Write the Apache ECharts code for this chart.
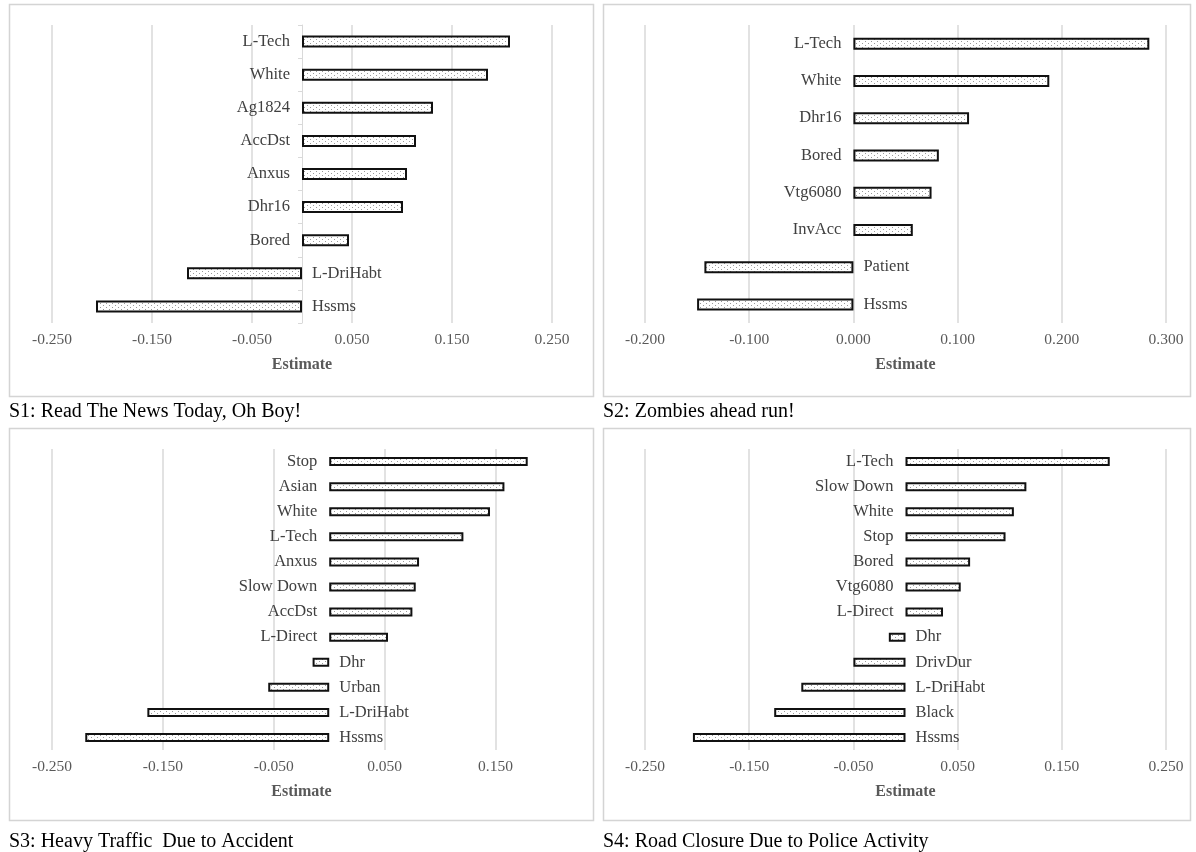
<!DOCTYPE html>
<html>
<head>
<meta charset="utf-8">
<script src="https://cdn.jsdelivr.net/npm/echarts@6/dist/echarts.min.js"></script>
<style>
  html, body { margin: 0; padding: 0; background: #fff; }
  #chart { width: 1196px; height: 852px; }
</style>
</head>
<body>
<div id="chart"></div>
<script>
// Scenario S1
const s1Vars = ['L-Tech', 'White', 'Ag1824', 'AccDst', 'Anxus', 'Dhr16', 'Bored', 'L-DriHabt', 'Hssms'];
const s1Est = [0.208, 0.186, 0.131, 0.114, 0.105, 0.101, 0.047, -0.115, -0.206];
// Scenario S2
const s2Vars = ['L-Tech', 'White', 'Dhr16', 'Bored', 'Vtg6080', 'InvAcc', 'Patient', 'Hssms'];
const s2Est = [0.284, 0.188, 0.111, 0.082, 0.075, 0.057, -0.143, -0.150];
// Scenario S3
const s3Vars = ['Stop', 'Asian', 'White', 'L-Tech', 'Anxus', 'Slow Down', 'AccDst', 'L-Direct', 'Dhr', 'Urban', 'L-DriHabt', 'Hssms'];
const s3Est = [0.179, 0.158, 0.145, 0.121, 0.081, 0.078, 0.075, 0.053, -0.015, -0.055, -0.164, -0.220];
// Scenario S4
const s4Vars = ['L-Tech', 'Slow Down', 'White', 'Stop', 'Bored', 'Vtg6080', 'L-Direct', 'Dhr', 'DrivDur', 'L-DriHabt', 'Black', 'Hssms'];
const s4Est = [0.196, 0.116, 0.104, 0.096, 0.062, 0.053, 0.036, -0.016, -0.050, -0.100, -0.126, -0.204];

const titles = [
  'S1: Read The News Today, Oh Boy!',
  'S2: Zombies ahead run!',
  'S3: Heavy Traffic  Due to Accident',
  'S4: Road Closure Due to Police Activity'
];

// Axis ranges per panel
const axisMin = [-0.25, -0.2, -0.25, -0.25];
const axisMax = [0.25, 0.3, 0.2, 0.25];
const axisStep = 0.1;

const SERIF = '"Liberation Serif", "Times New Roman", serif';

// dotted fill for the bars
function makeDots() {
  const c = document.createElement('canvas');
  c.width = 6; c.height = 4;
  const g = c.getContext('2d');
  g.fillStyle = '#ffffff';
  g.fillRect(0, 0, 6, 4);
  g.fillStyle = '#9a9a9a';
  g.fillRect(1, 1, 1, 1);
  g.fillRect(4, 3, 1, 1);
  return c;
}
const dots = { image: makeDots(), repeat: 'repeat' };

const panels = [
  { vars: s1Vars, est: s1Est, grid: { left: 52, top: 25, width: 500, height: 298 }, box: [9, 4, 584, 392], titleGap: 1, barW: 12, zeroAxis: true },
  { vars: s2Vars, est: s2Est, grid: { left: 645, top: 25, width: 521, height: 298 }, box: [603, 4, 587, 392], titleGap: 1, barW: 12, zeroAxis: false },
  { vars: s3Vars, est: s3Est, grid: { left: 52, top: 449, width: 499, height: 301 }, box: [9, 428, 584, 392], titleGap: 7, barW: 9, zeroAxis: false },
  { vars: s4Vars, est: s4Est, grid: { left: 645, top: 449, width: 521, height: 301 }, box: [603, 428, 587, 392], titleGap: 7, barW: 9, zeroAxis: false }
];

const option = {
  animation: false,
  backgroundColor: '#ffffff',
  title: [],
  graphic: [],
  grid: [],
  xAxis: [],
  yAxis: [],
  series: []
};

panels.forEach((p, i) => {
  option.grid.push(p.grid);
  option.graphic.push({
    type: 'rect', silent: true, z: -1,
    shape: { x: p.box[0] + 0.5, y: p.box[1] + 0.5, width: p.box[2], height: p.box[3] },
    style: { fill: 'none', stroke: '#d4d4d4', lineWidth: 1.5 }
  });
  option.title.push({
    text: titles[i],
    left: p.box[0] - 5,
    top: p.box[1] + p.box[3] + p.titleGap,
    textStyle: { fontFamily: SERIF, fontSize: 20, fontWeight: 'normal', color: '#000' }
  });
  option.xAxis.push({
    type: 'value',
    gridIndex: i,
    min: axisMin[i],
    max: axisMax[i],
    interval: axisStep,
    name: 'Estimate',
    nameLocation: 'middle',
    nameGap: 34,
    nameTextStyle: { fontFamily: SERIF, fontSize: 16, fontWeight: 'bold', color: '#595959' },
    axisLine: { show: false },
    axisTick: { show: false },
    axisLabel: {
      fontFamily: SERIF, fontSize: 15.5, color: '#595959', margin: 9,
      showMaxLabel: i !== 2,
      formatter: v => v.toFixed(3)
    },
    splitLine: { show: true, showMaxLine: i !== 2, lineStyle: { color: '#d9d9d9', width: 1.5 } }
  });
  option.yAxis.push({
    type: 'category',
    gridIndex: i,
    data: p.vars,
    inverse: true,
    axisLine: { show: p.zeroAxis, onZero: true, lineStyle: { color: '#d9d9d9', width: 1 } },
    axisTick: { show: p.zeroAxis, length: 4, lineStyle: { color: '#d9d9d9' } },
    axisLabel: { show: false },
    splitLine: { show: false }
  });
  option.series.push({
    type: 'bar',
    xAxisIndex: i,
    yAxisIndex: i,
    barWidth: p.barW,
    itemStyle: { color: dots, borderColor: '#111', borderWidth: 2 },
    data: p.est.map(v => ({
      value: v,
      label: {
        show: true,
        position: v >= 0 ? 'left' : 'right',
        distance: v >= 0 ? 12 : 10,
        formatter: '{b}',
        fontFamily: SERIF,
        fontSize: 16.5,
        color: '#404040'
      }
    }))
  });
});

const chart = echarts.init(document.getElementById('chart'), null, { renderer: 'canvas' });
chart.setOption(option);
</script>
</body>
</html>
